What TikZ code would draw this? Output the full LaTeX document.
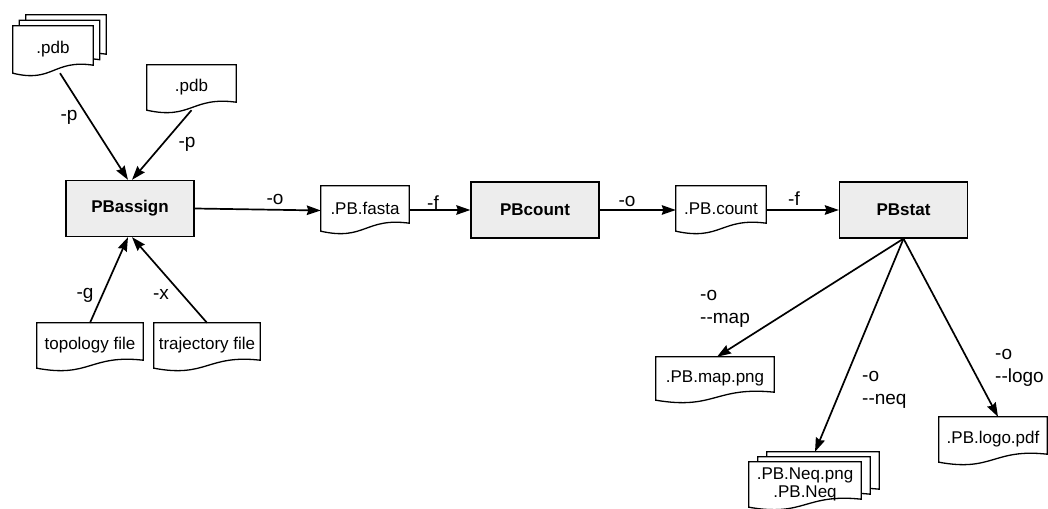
\documentclass[tikz,border=0pt]{standalone}
\usepackage{fontspec}
\setmainfont{Liberation Sans}
\usetikzlibrary{arrows.meta,backgrounds}

\definecolor{toolgray}{RGB}{237,237,237}
\newcommand\docfont{\fontsize{17}{18}\selectfont}
\newcommand\optfont{\fontsize{19}{23}\selectfont}
% outline of a file sheet with wavy bottom, drawn round a node
\newcommand\drawdoc[1]{%
  \draw[fill=white, line width=1.3pt] (#1.north west) -- (#1.north east)
    -- ([yshift=8pt]#1.south east)
    .. controls ([yshift=14pt]#1.south) and ([yshift=-10pt]#1.south) .. (#1.south west)
    -- cycle;}

\tikzset{
  tool/.style={draw, line width=1.3pt, fill=toolgray, minimum width=128pt,
    minimum height=56pt, font=\docfont\bfseries},
  doc/.style 2 args={minimum width=#1, minimum height=#2, inner sep=0pt,
    font=\docfont, align=center},
  opt/.style={font=\optfont, inner sep=0pt},
  optl/.style={opt, align=left, anchor=west},
  flow/.style={->, line width=1.7pt},
}

\begin{document}
\begin{tikzpicture}[x=1pt, y=1pt,
  >={Stealth[length=14pt,width=9.5pt,inset=1.5pt]}]
\useasboundingbox (0,0) rectangle (1048,508);

% programs
\node[tool] (assign) at (130,299.5) {PBassign};
\node[tool] (counter) at (535,298) {PBcount};
\node[tool] (stat) at (903.5,298) {PBstat};

% files
\node[doc={80pt}{47pt}] (pdbA) at (53,458.5) {.pdb};
\node[doc={80pt}{47pt}] (pdbA2) at ([shift={(6.5,5.5)}]pdbA) {};
\node[doc={80pt}{47pt}] (pdbA3) at ([shift={(13,11)}]pdbA) {};
\node[doc={89pt}{45pt}] (pdbB) at (191.5,420.5) {.pdb};
\node[doc={106pt}{45pt}] (topo) at (90,162.5) {topology file};
\node[doc={106pt}{45pt}] (traj) at (207,162.5) {trajectory file};
\node[doc={88pt}{45pt}] (fasta) at (365,299.5) {.PB.fasta};
\node[doc={90pt}{45pt}] (cnt) at (721,299.5) {.PB.count};
\node[doc={118pt}{43pt}] (map) at (715,129.5) {.PB.map.png};
\node[doc={108pt}{45pt}] (logo) at (993,68.5) {.PB.logo.pdf};
\node[doc={112pt}{45pt}] (neq) at (805,23.5) {.PB.Neq.png\\.PB.Neq};
\node[doc={112pt}{45pt}] (neq2) at ([shift={(9,5)}]neq) {};
\node[doc={112pt}{45pt}] (neq3) at ([shift={(18,10)}]neq) {};

\begin{pgfonlayer}{background}
\foreach \n in {pdbA3,pdbA2,pdbA,pdbB,topo,traj,fasta,cnt,map,logo,neq3,neq2,neq}
{
    \drawdoc{\n}
}
\end{pgfonlayer}

% inputs of PBassign
\draw[flow] ([xshift=7pt]pdbA.south) -- ([xshift=-2pt]assign.north);
\draw[flow] (pdbB.south) -- ([xshift=2pt]assign.north);
\draw[flow] (topo.north) -- ([xshift=-2pt]assign.south);
\draw[flow] (traj.north) -- ([xshift=2pt]assign.south);
\node[opt] (optp1) at (69,391) {-p};
\node[opt] (optp2) at (187,364) {-p};
\node[opt] (optg) at (85,213) {-g};
\node[opt] (optx) at (161,214) {-x};

% main chain
\draw[flow] (assign.east) -- ([yshift=-2pt]fasta.west);
\draw[flow] (fasta.east |- counter) -- (counter.west);
\draw[flow] (counter.east) -- (cnt.west |- counter);
\draw[flow] (cnt.east |- stat) -- (stat.west);
\node[opt] (opto1) at (275,309) {-o};
\node[opt] (optf1) at (433,305) {-f};
\node[opt] (opto2) at (627,307) {-o};
\node[opt] (optf2) at (794,309) {-f};

% outputs of PBstat
\draw[flow] (stat.south) -- ([xshift=2pt]map.north);
\draw[flow] (stat.south) -- ([xshift=-8pt]neq3.north);
\draw[flow] (stat.south) -- ([xshift=5pt]logo.north);
\node[optl] (optmap) at (700,199) {-o\\-{}-map};
\node[optl] (optneq) at (862,118.5) {-o\\-{}-neq};
\node[optl] (optlogo) at (995,140.5) {-o\\-{}-logo};
\end{tikzpicture}
\end{document}
